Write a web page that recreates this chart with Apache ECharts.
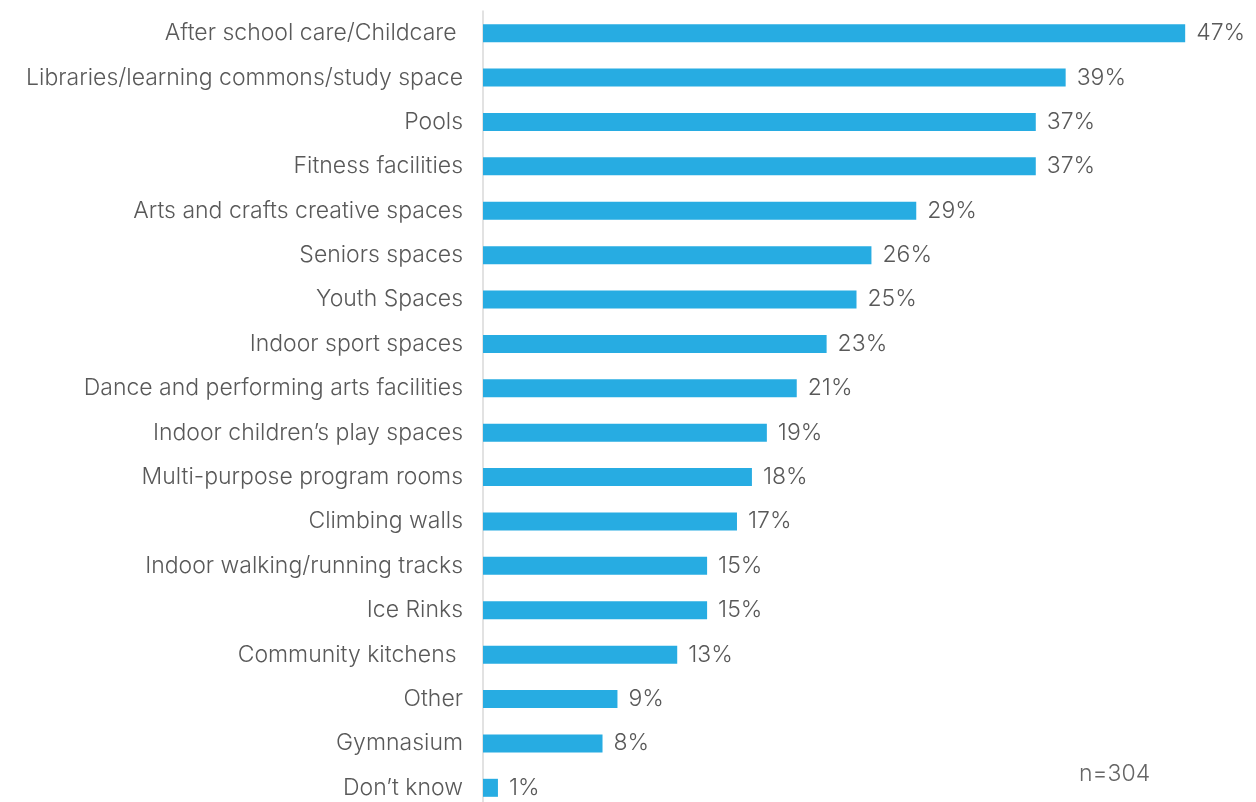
<!DOCTYPE html>
<html>
<head>
<meta charset="utf-8">
<script src="https://cdn.jsdelivr.net/npm/echarts@6/dist/echarts.min.js"></script>
<style>
  html, body { margin: 0; padding: 0; background: #ffffff; overflow: hidden; }
  #chart { width: 1256px; height: 812px; }
</style>
</head>
<body>
<div id="chart"></div>
<script>
// Facility types, listed top to bottom
const categories = [
  'After school care/Childcare ',
  'Libraries/learning commons/study space',
  'Pools',
  'Fitness facilities',
  'Arts and crafts creative spaces',
  'Seniors spaces',
  'Youth Spaces',
  'Indoor sport spaces',
  'Dance and performing arts facilities',
  'Indoor children\u2019s play spaces',
  'Multi-purpose program rooms',
  'Climbing walls',
  'Indoor walking/running tracks',
  'Ice Rinks',
  'Community kitchens ',
  'Other',
  'Gymnasium',
  'Don\u2019t know'
];

// Share of respondents (%)
const values = [47, 39, 37, 37, 29, 26, 25, 23, 21, 19, 18, 17, 15, 15, 13, 9, 8, 1];

const sampleNote = 'n=304';

const chart = echarts.init(document.getElementById('chart'));
const textFont = 'Inter';
const textSize = 23;

chart.setOption({
  backgroundColor: '#ffffff',
  animation: false,
  grid: { left: 483, top: 11, width: 747, height: 799, containLabel: false },
  xAxis: {
    type: 'value',
    min: 0,
    max: 50,
    show: false
  },
  yAxis: {
    type: 'category',
    inverse: true,
    data: categories,
    axisLine: { show: true, lineStyle: { color: '#d9d9d9', width: 1.5 } },
    axisTick: { show: false },
    axisLabel: {
      margin: 20,
      color: '#595959',
      fontFamily: textFont,
      fontSize: textSize,
      fontWeight: 300
    }
  },
  series: [{
    type: 'bar',
    data: values,
    barWidth: 18,
    itemStyle: { color: '#27ace2' },
    label: {
      show: true,
      position: 'right',
      distance: 11,
      formatter: '{c}%',
      color: '#595959',
      fontFamily: textFont,
      fontSize: textSize,
      fontWeight: 300
    }
  }],
  graphic: [{
    type: 'text',
    left: 1079,
    top: 763,
    style: {
      text: sampleNote,
      fill: '#666666',
      font: '300 ' + textSize + 'px ' + textFont
    }
  }]
});
</script>
</body>
</html>
